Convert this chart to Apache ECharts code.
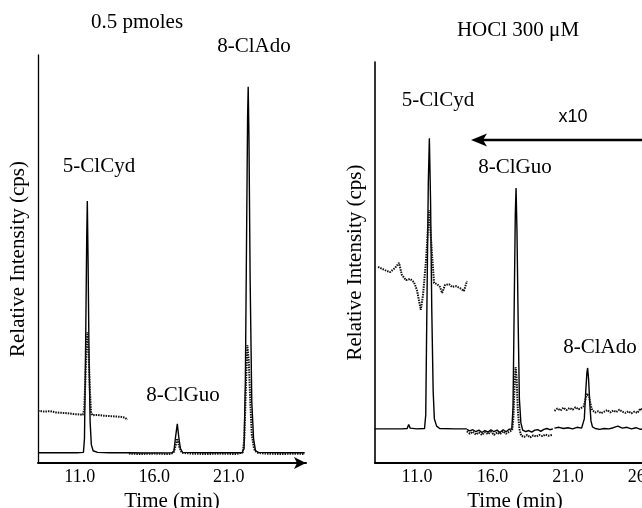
<!DOCTYPE html>
<html>
<head>
<meta charset="utf-8">
<script src="https://cdn.jsdelivr.net/npm/echarts@6/dist/echarts.min.js"></script>
<style>html,body{margin:0;padding:0;background:#fff}#c{width:642px;height:508px}</style>
</head>
<body>
<div id="c"></div>
<script>
// ---- data (time in min, relative intensity 0-100) ----
const leftTicks = [11, 16, 21];
const rightTicks = [11, 16, 21, 26];
const panelTitles = ['0.5 pmoles', 'HOCl 300 μM'];
const peakNames = ['5-ClCyd', '8-ClGuo', '8-ClAdo'];

const leftSolid = [[8.2,2.5],[9.5,2.5],[10.8,2.5],[11.25,2.6],[11.32,6],[11.4,30],[11.47,55],[11.51,64.2],[11.56,50],[11.63,25],[11.7,10],[11.78,4.5],[11.9,3],[12.2,2.6],[13.0,2.5],[14.3,2.5],[15.5,2.45],[17.2,2.5],[17.33,3],[17.42,6],[17.55,9.6],[17.66,6],[17.76,3.5],[17.9,2.6],[19.5,2.5],[21.9,2.5],[22.03,3.5],[22.12,20],[22.2,55],[22.27,85],[22.31,92.2],[22.36,80],[22.44,45],[22.55,15],[22.67,6],[22.8,3],[23.0,2.6],[24.5,2.5],[26.1,2.5]];
const leftDotted = [[14.3,2.3],[15.0,2.2],[16.0,2.3],[17.0,2.2],[17.3,2.5],[17.42,4],[17.55,6],[17.68,4],[17.85,2.5],[18.5,2.3],[19.5,2.2],[20.5,2.3],[21.5,2.2],[21.95,2.6],[22.05,6],[22.15,18],[22.25,28.9],[22.35,25],[22.45,15],[22.55,7],[22.7,3.5],[22.9,2.5],[23.5,2.3],[24.5,2.2],[25.5,2.3],[26.1,2.2]];
const leftX10 = [[8.2,12.8],[8.6,12.6],[9.0,12.7],[9.4,12.4],[9.8,12.3],[10.2,12.2],[10.6,12.0],[11.0,11.9],[11.2,11.8],[11.3,13],[11.38,20],[11.45,28],[11.52,32.1],[11.6,27],[11.68,18],[11.76,12.5],[11.85,11.7],[12.2,11.8],[12.6,11.6],[13.0,11.5],[13.4,11.4],[13.8,11.3],[14.05,11.1],[14.2,10.6]];

const rightSolidA = [[8.2,8.5],[9.0,8.5],[10.0,8.5],[10.35,8.6],[10.45,9.6],[10.55,8.7],[11.0,8.5],[11.5,8.6],[11.58,12],[11.66,40],[11.75,70],[11.82,81],[11.9,65],[11.98,38],[12.07,18],[12.15,11],[12.3,9.2],[12.5,8.6],[13.5,8.5],[14.3,8.5]];
const rightX10A = [[8.42,48.9],[8.88,48.1],[9.21,47.6],[9.54,48.6],[9.81,49.9],[10.0,46.9],[10.27,45.6],[10.54,45.9],[10.8,45.1],[11.0,43.1],[11.25,38.2],[11.4,41.9],[11.6,50.6],[11.8,63.1],[12.0,51.9],[12.13,44.9],[12.33,44.6],[12.53,43.9],[12.66,42.4],[12.86,44.4],[13.12,44.6],[13.32,43.9],[13.58,44.1],[13.85,43.6],[14.11,42.9],[14.31,45.4]];
const rightSolidB = [[14.3,8.4],[14.5,8.0],[14.7,8.3],[14.9,7.8],[15.1,8.2],[15.3,7.6],[15.5,8.1],[15.7,7.7],[15.9,8.3],[16.1,7.8],[16.3,8.2],[16.5,7.6],[16.7,8.3],[16.9,7.8],[17.1,8.4],[17.28,8.5],[17.36,14],[17.44,40],[17.51,62],[17.56,68.6],[17.62,58],[17.7,35],[17.78,16],[17.88,10],[18.0,8.2],[18.2,7.8],[18.4,8.1],[18.6,7.7],[18.8,8.2],[19.0,8.3],[19.2,7.9],[19.4,8.4],[19.6,8.6],[19.8,8.3],[20.0,8.5]];
const rightDottedB = [[14.3,7.9],[14.5,7.3],[14.7,7.8],[14.9,7.1],[15.1,7.6],[15.3,7.0],[15.5,7.7],[15.7,7.2],[15.9,7.8],[16.1,7.0],[16.3,7.6],[16.5,7.2],[16.7,7.9],[16.9,7.3],[17.1,7.8],[17.3,8.2],[17.38,11],[17.46,19],[17.53,23.9],[17.6,21],[17.68,13],[17.78,8.5],[17.9,6.8],[18.1,6.5],[18.3,7.0],[18.5,6.4],[18.7,6.9],[18.9,6.6],[19.1,7.0],[19.3,6.7],[19.5,7.1],[19.7,6.8],[19.95,7.0]];
const rightSolidC = [[20.1,8.7],[20.4,8.9],[20.7,8.6],[21.0,8.8],[21.3,8.5],[21.6,8.9],[21.9,8.7],[22.0,9.0],[22.08,11],[22.16,17],[22.25,22.5],[22.3,23.7],[22.36,21],[22.44,15],[22.52,10.5],[22.62,9.0],[22.8,8.6],[23.1,8.4],[23.4,8.6],[23.7,8.5],[24.0,8.8],[24.3,9.2],[24.6,8.7],[24.9,8.9],[25.2,8.5],[25.5,8.8],[25.8,8.4],[26.1,8.7],[26.4,8.5],[26.8,8.7]];
const rightX10C = [[20.1,13.0],[20.3,13.6],[20.5,13.1],[20.7,13.8],[20.9,13.2],[21.1,13.7],[21.3,13.3],[21.5,13.9],[21.7,13.4],[21.9,13.8],[22.05,14.2],[22.15,15.8],[22.25,17.3],[22.32,17.5],[22.4,16.5],[22.5,14.5],[22.6,13.2],[22.8,12.6],[23.0,12.9],[23.2,12.4],[23.4,12.8],[23.6,13.2],[23.8,12.6],[24.0,13.1],[24.2,12.7],[24.4,13.3],[24.6,12.8],[24.8,12.5],[25.0,12.9],[25.2,12.4],[25.4,12.8],[25.6,12.5],[25.8,13.6],[26.0,12.8],[26.2,13.0],[26.5,12.7],[26.8,12.9]];

// ---- chart ----
const SERIF = '"Liberation Serif", "Times New Roman", serif';
const chart = echarts.init(document.getElementById('c'), null, {renderer: 'canvas'});

function xAx(gi, min, max, ticks, arrow) {
  return {
    type: 'value', gridIndex: gi, min: min, max: max,
    name: 'Time (min)', nameLocation: 'middle', nameGap: 23,
    nameTextStyle: {fontFamily: SERIF, fontSize: 21, color: '#000'},
    axisLine: {show: true, lineStyle: {color: '#000', width: 2}, symbol: arrow ? ['none', 'arrow'] : ['none', 'none'], symbolSize: [9, 12]},
    axisTick: {show: false},
    splitLine: {show: false},
    axisLabel: {customValues: ticks, formatter: v => v.toFixed(1), fontFamily: SERIF, fontSize: 18, color: '#000', margin: 5}
  };
}
function yAx(gi, w) {
  return {
    type: 'value', gridIndex: gi, min: 0, max: 100,
    name: 'Relative Intensity (cps)', nameLocation: 'middle', nameGap: 9, nameRotate: 90,
    nameTextStyle: {fontFamily: SERIF, fontSize: 21, color: '#000'},
    axisLine: {show: true, lineStyle: {color: '#000', width: w}},
    axisTick: {show: false}, axisLabel: {show: false}, splitLine: {show: false}
  };
}
function line(gi, data, dotted) {
  return {
    type: 'line', xAxisIndex: gi, yAxisIndex: gi, data: data, symbol: 'none', animation: false,
    lineStyle: dotted ? {color: '#111', width: 2, type: [1.5, 1]} : {color: '#000', width: 1.4}
  };
}
function txt(x, y, s, size, fam) {
  return {type: 'text', x: x, y: y, silent: true,
    style: {text: s, fill: '#000', font: (size || 21) + 'px ' + (fam || SERIF), align: 'center', verticalAlign: 'middle'}};
}

chart.setOption({
  animation: false,
  backgroundColor: '#fff',
  grid: [
    {left: 38, top: 55, width: 268, height: 408, containLabel: false, outerBoundsMode: 'none'},
    {left: 375, top: 62, width: 280, height: 401, containLabel: false, outerBoundsMode: 'none'}
  ],
  xAxis: [xAx(0, 8.2, 26.19, leftTicks, true), xAx(1, 8.22, 26.76, rightTicks, false)],
  yAxis: [yAx(0, 1.3), yAx(1, 1.6)],
  series: [
    line(0, leftSolid, false), line(0, leftDotted, true), line(0, leftX10, true),
    line(1, rightSolidA, false), line(1, rightX10A, true),
    line(1, rightSolidB, false), line(1, rightDottedB, true),
    line(1, rightSolidC, false), line(1, rightX10C, true)
  ],
  graphic: [
    txt(137, 22, panelTitles[0]),
    txt(518, 30, panelTitles[1]),
    txt(99, 166, peakNames[0]),
    txt(183, 395, peakNames[1]),
    txt(254, 46, peakNames[2]),
    txt(438, 100, peakNames[0]),
    txt(515, 167, peakNames[1]),
    txt(600, 347, peakNames[2]),
    txt(573, 117, 'x10', 18, '"Liberation Sans", Arial, sans-serif'),
    {type: 'line', silent: true, shape: {x1: 482, y1: 140, x2: 650, y2: 140}, style: {stroke: '#000', lineWidth: 2.5}},
    {type: 'polygon', silent: true, shape: {points: [[471, 140], [487, 133.5], [483, 140], [487, 146.5]]}, style: {fill: '#000'}}
  ]
});
</script>
</body>
</html>
